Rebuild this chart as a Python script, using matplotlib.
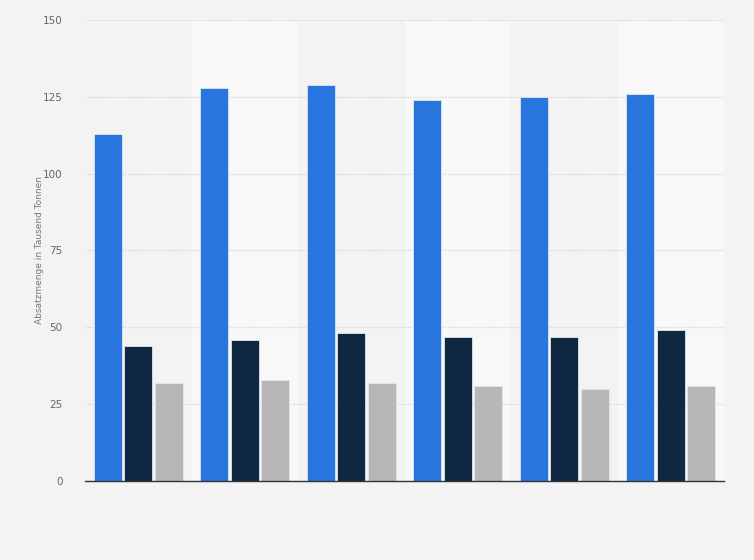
import matplotlib
matplotlib.use("Agg")
import matplotlib.pyplot as plt
import numpy as np

groups = ["1", "2", "3", "4", "5", "6"]
series_a = [113, 128, 129, 124, 125, 126]
series_b = [44, 46, 48, 47, 47, 49]
series_c = [32, 33, 32, 31, 30, 31]
yticks = [0, 25, 50, 75, 100, 125, 150]
ylabel = "Absatzmenge in Tausend Tonnen"

colors = ["#2876dd", "#0f2740", "#b7b7b7"]

fig = plt.figure(figsize=(7.54, 5.6), dpi=100)
fig.patch.set_facecolor("#f3f3f3")
ax = fig.add_axes([85/754, 1 - 481/560, (724-85)/754, (481-20)/560])
ax.set_facecolor("#f3f3f3")

x = np.arange(len(groups))
for i in range(len(groups)):
    if i % 2 == 1:
        ax.axvspan(i - 0.5, i + 0.5, color="#f8f8f8", zorder=0, lw=0)

w = 0.265
off = 0.287
for k, (vals, c) in enumerate(zip([series_a, series_b, series_c], colors)):
    ax.bar(x + (k - 1) * off, vals, width=w, color=c, edgecolor="#dfe6ee",
           linewidth=0.6, zorder=3)

ax.set_xlim(-0.5, len(groups) - 0.5)
ax.set_ylim(0, 150)
ax.set_yticks(yticks)
ax.set_yticklabels([str(t) for t in yticks], fontsize=7.5, color="#666666")
ax.set_xticks([])
ax.yaxis.grid(True, color="#d6d6d6", linestyle=(0, (1, 1)), linewidth=0.9, zorder=1)
ax.tick_params(axis="y", length=0, pad=16)
for s in ["top", "right", "left"]:
    ax.spines[s].set_visible(False)
ax.spines["bottom"].set_color("#333333")
ax.spines["bottom"].set_linewidth(1.0)
ax.spines["bottom"].set_zorder(4)

fig.text(40/754, 1 - 250/560, ylabel, rotation=90, fontsize=6.5, color="#777777",
         ha="center", va="center")

fig.savefig("out.png", dpi=100, facecolor=fig.get_facecolor())
